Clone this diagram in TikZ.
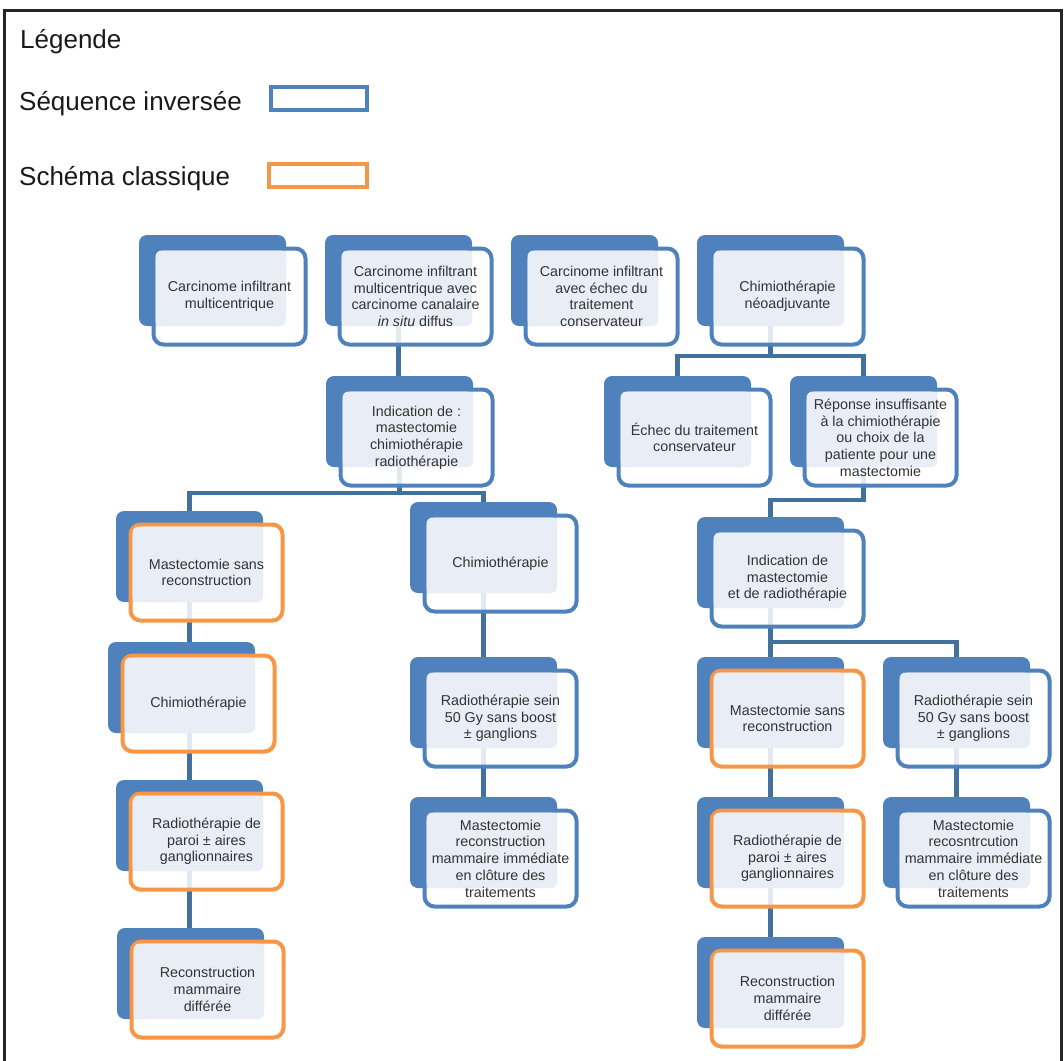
\documentclass[tikz,border=0pt]{standalone}
\usepackage{fontspec}
\setmainfont{Liberation Sans}
\usetikzlibrary{calc,backgrounds}
\definecolor{seqblue}{HTML}{4F81BD}
\definecolor{classorange}{HTML}{F79646}
\definecolor{linkblue}{HTML}{41719C}
\definecolor{paleblue}{HTML}{E9EDF6}
\definecolor{inkgray}{HTML}{333333}
\tikzset{
    back/.style={rectangle, rounded corners=8pt, fill=seqblue, minimum width=147pt, minimum height=91pt, inner sep=0, outer sep=0},
    card/.style={rectangle, rounded corners=10pt, draw=#1, line width=4pt, fill=white, fill opacity=0.85, minimum width=152pt, minimum height=96pt, inner sep=0},
    pale/.style={fill=paleblue, rounded corners=6pt},
    txt/.style={align=center, font=\fontsize{14.3}{16.7}\selectfont, text=inkgray, inner sep=0},
    link/.style={draw=linkblue, line width=4.5pt},
    legend/.style={anchor=base west, font=\fontsize{26}{30}\selectfont, text=black!90, inner sep=0},
    swatch/.style={rectangle, draw=#1, line width=4pt, fill=white, minimum height=23pt, inner sep=0},
}
\begin{document}
\begin{tikzpicture}[x=1pt, y=-1pt]
    \useasboundingbox (0,0) rectangle (1064,1060);
    \draw[line width=3pt, black!85] (4,10) rectangle (1061,1080);

    % legend
    \node[legend] (title) at (20,48) {Légende};
    \node[legend] (seqtext) at (19,110) {Séquence inversée};
    \node[legend] (classtext) at (19,185) {Schéma classique};
    \node[swatch=seqblue, minimum width=96pt] (seqkey) at (319,98.5) {};
    \node[swatch=classorange, minimum width=98pt] (classkey) at (318,175.5) {};

    % cards: back block, outlined card, pale overlap, text
    \foreach \n/\x/\y/\c/\t in {
        inf/139/235/seqblue/{Carcinome infiltrant\\multicentrique},
        infcis/325/235/seqblue/{Carcinome infiltrant\\multicentrique avec\\carcinome canalaire\\\textit{in situ} diffus},
        infech/511/235/seqblue/{Carcinome infiltrant\\avec échec du\\traitement\\conservateur},
        neoadj/697/235/seqblue/{Chimiothérapie\\néoadjuvante},
        indic/326/376/seqblue/{Indication de :\\mastectomie\\chimiothérapie\\radiothérapie},
        mast1/116/511/classorange/{Mastectomie sans\\reconstruction},
        chimio1/108/642/classorange/{Chimiothérapie},
        paroi1/116/780/classorange/{Radiothérapie de\\paroi ± aires\\ganglionnaires},
        recon1/117/928/classorange/{Reconstruction\\mammaire\\différée},
        chimio2/410/502/seqblue/{Chimiothérapie},
        sein2/410/657/seqblue/{Radiothérapie sein\\50 Gy sans boost\\± ganglions},
        immed2/410/797/seqblue/{Mastectomie\\reconstruction\\mammaire immédiate\\en clôture des\\traitements},
        echec/604/376/seqblue/{Échec du traitement\\conservateur},
        reponse/790/376/seqblue/{Réponse insuffisante\\à la chimiothérapie\\ou choix de la\\patiente pour une\\mastectomie},
        indic3/697/517/seqblue/{Indication de\\mastectomie\\et de radiothérapie},
        mast3/697/657/classorange/{Mastectomie sans\\reconstruction},
        sein4/883/657/seqblue/{Radiothérapie sein\\50 Gy sans boost\\± ganglions},
        paroi3/697/797/classorange/{Radiothérapie de\\paroi ± aires\\ganglionnaires},
        recon3/697/937/classorange/{Reconstruction\\mammaire\\différée},
        immed4/883/797/seqblue/{Mastectomie\\recosntrcution\\mammaire immédiate\\en clôture des\\traitements}} {
        \node[back] (\n-bk) at (\x+73.5,\y+45.5) {};
        \node[card=\c] (\n) at ($(\n-bk)+(17,16)$) {};
        \fill[pale] ($(\n.north west)+(4,4)$) rectangle (\n-bk.south east);
        \node[txt] (\n-txt) at (\n) {\t};
    }

    % connectors
    \begin{scope}[on background layer]
        \foreach \a/\b/\col in {infcis/indic/infcis, mast1/chimio1/mast1, chimio1/paroi1/paroi1, paroi1/recon1/paroi1, chimio2/sein2/sein2, sein2/immed2/sein2, mast3/paroi3/mast3, paroi3/recon3/paroi3, sein4/immed4/sein4}
            \draw[link] (\a-bk.south -| \col-bk) -- (\b-bk.north -| \col-bk);
        \foreach \a/\b/\d in {indic/mast1/26, indic/chimio2/26, neoadj/echec/30, neoadj/reponse/30, reponse/indic3/33, indic3/mast3/34, indic3/sein4/34}
            \draw[link] (\a-bk.south) -- ++(0,\d) -| (\b-bk.north);
    \end{scope}
\end{tikzpicture}
\end{document}
